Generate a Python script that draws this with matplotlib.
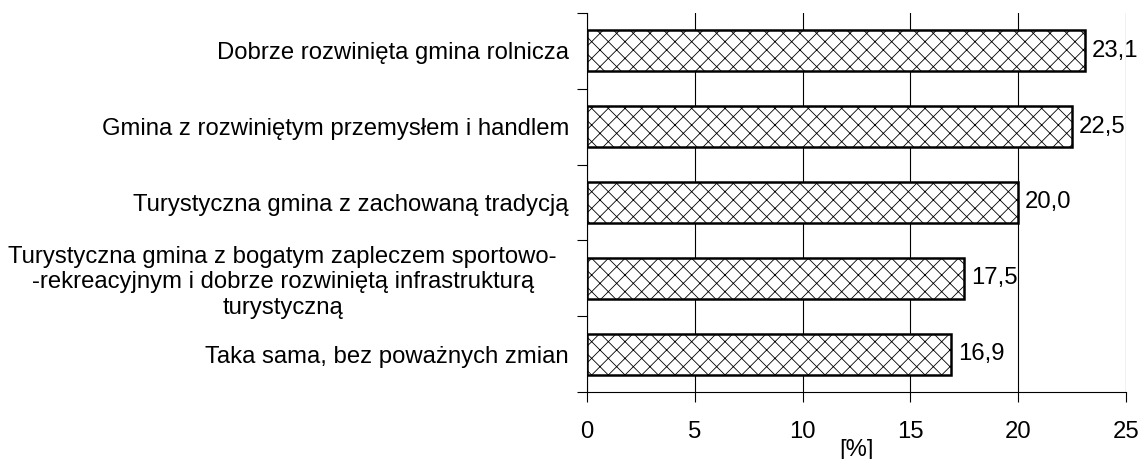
import matplotlib
matplotlib.use("Agg")
import matplotlib.pyplot as plt
import numpy as np

categories = [
    "Dobrze rozwinięta gmina rolnicza",
    "Gmina z rozwiniętym przemysłem i handlem",
    "Turystyczna gmina z zachowaną tradycją",
    "Turystyczna gmina z bogatym zapleczem sportowo-\n-rekreacyjnym i dobrze rozwiniętą infrastrukturą\nturystyczną",
    "Taka sama, bez poważnych zmian",
]
values = [23.1, 22.5, 20.0, 17.5, 16.9]
value_labels = ["23,1", "22,5", "20,0", "17,5", "16,9"]
xticks = [0, 5, 10, 15, 20, 25]

plt.rcParams['font.family'] = ['Liberation Sans', 'DejaVu Sans']
plt.rcParams['hatch.linewidth'] = 0.6
fs = 17.2

fig = plt.figure(figsize=(11.4, 4.59), dpi=100)
ax = fig.add_axes([0.5149, 0.146, 0.4728, 0.8257])

ypos = np.arange(len(categories))[::-1]
ax.barh(ypos, values, height=0.54, color="white", edgecolor="black",
        linewidth=1.8, hatch="xx", zorder=3)

for y, v, lab in zip(ypos, values, value_labels):
    ax.text(v + 0.3, y, lab, va="center", ha="left", fontsize=fs)

ax.set_xlim(0, 25)
ax.set_ylim(-0.5, len(categories) - 0.5)
ax.set_xticks(xticks)
ax.set_xticklabels([str(t) for t in xticks], fontsize=fs)
ax.xaxis.grid(True, color="black", linewidth=0.8, zorder=0)
ax.set_xlabel("[%]", fontsize=fs, labelpad=-3)

ax.set_yticks(ypos)
ax.set_yticklabels(categories, fontsize=fs, multialignment="center")
ax.tick_params(axis="y", which="major", length=0, pad=13)
ax.set_yticks(np.arange(-0.5, len(categories)), minor=True)
ax.tick_params(axis="y", which="minor", length=7, width=0.8, direction="out")
ax.tick_params(axis="x", length=7, width=0.8, direction="out", pad=14)

# the wrapped label sits a bit further left in the original
ax.get_yticklabels()[3].set_x(-12 / 539)

for s in ["top", "right"]:
    ax.spines[s].set_visible(False)
ax.spines["left"].set_linewidth(0.8)
ax.spines["bottom"].set_linewidth(0.8)

fig.savefig("out.png", dpi=100)
